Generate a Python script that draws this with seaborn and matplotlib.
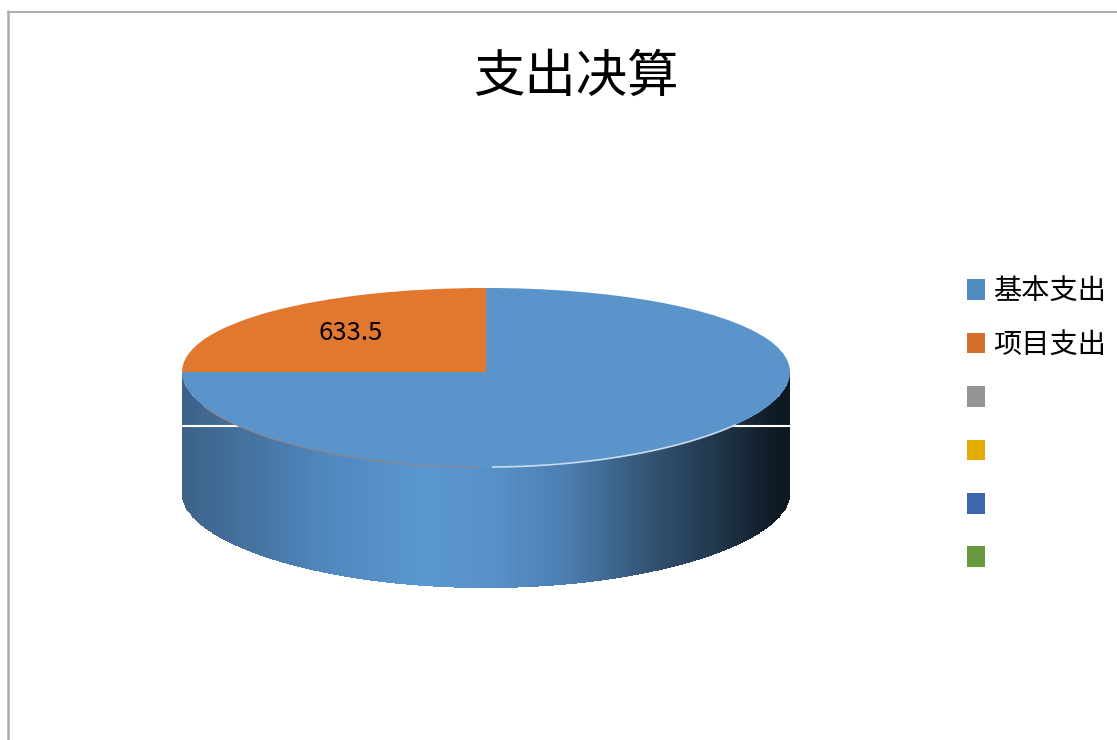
import numpy as np
import matplotlib
matplotlib.use("Agg")
import matplotlib.pyplot as plt
from matplotlib.colors import LinearSegmentedColormap
from matplotlib.lines import Line2D
from matplotlib.patches import Patch
import seaborn as sns

# Budget figures; the first amount is an estimate from its share of the disc
title = "支出决算"
categories = ["基本支出", "项目支出", "", "", "", ""]
values = [1900.5, 633.5, 0, 0, 0, 0]
legend_colors = ["#5189C0", "#D36E2B", "#949494", "#E6AB00", "#3D66AE", "#66993D"]
top_colors = ["#5A94CB", "#E27830"]

sns.set_theme(style="white")
plt.rcParams["font.family"] = ["Noto Sans CJK SC", "DejaVu Sans"]

W, H = 1117, 740
fig = plt.figure(figsize=(W / 100, H / 100), dpi=100, facecolor="white")
ax = fig.add_axes([0, 0, 1, 1])

# Disc geometry in pixels
CX, CY, RX = 486, 372, 304
A, B = 89.2, 0.0615
DEPTH = 121


def tilt(y):
    """Foreshortening of the tilted disc: data radius to pixels above centre."""
    y = np.asarray(y, dtype=float)
    return A * y / (1 + B * y)


def untilt(p):
    p = np.asarray(p, dtype=float)
    return p / (A - B * p)


def value_label(pct):
    amount = pct / 100 * sum(values)
    return f"{amount:.1f}" if amount < 1000 else ""


shown = [v for v in values if v > 0]
wedges, _, autotexts = ax.pie(
    shown,
    colors=top_colors,
    startangle=180,
    radius=1,
    autopct=value_label,
    pctdistance=0.63,
    wedgeprops={"linewidth": 0},
    textprops={"fontsize": 18.5, "color": "black"},
)
ax.set_aspect("auto")
ax.set_yscale("function", functions=(tilt, untilt))
ax.set_xlim((0 - CX) / RX, (W - CX) / RX)
ax.set_ylim(untilt(CY - H), untilt(CY))
ax.set_xticks([])
ax.set_yticks([])
ax.minorticks_off()
ax.set_axis_off()
for w in wedges:
    w.set_zorder(4)
for t in autotexts:
    t.set_zorder(5)

# Cylinder wall below the front rim, shaded from left to right
shade = LinearSegmentedColormap.from_list(
    "wall",
    [
        (0.00, "#3E6288"),
        (0.10, "#44719E"),
        (0.24, "#5088BF"),
        (0.40, "#5A97D0"),
        (0.52, "#5790C8"),
        (0.64, "#4A7CAE"),
        (0.78, "#31506F"),
        (0.90, "#1D3144"),
        (0.97, "#101C27"),
        (1.00, "#0D171F"),
    ],
)
xs = np.linspace(-1, 1, 700)
rim = -np.sqrt(1 - xs**2)
rim_px = tilt(rim)
y_upper = untilt(rim_px)
y_lower = untilt(rim_px - DEPTH)
mesh_x = np.vstack([xs, xs])
mesh_y = np.vstack([y_lower, y_upper])
ax.pcolormesh(mesh_x, mesh_y, (xs[:-1] + 1)[None, :] / 2, cmap=shade, vmin=0, vmax=1,
              shading="flat", zorder=1, antialiased=False, rasterized=True)

# Thin white band across the wall, and the tinted seam along the front rim
band_y = untilt(CY - 426)
ax.plot([(181 - CX) / RX, (790 - CX) / RX], [band_y, band_y],
        color="white", lw=1.5, zorder=2, solid_capstyle="butt")
seam_left = (xs > -0.93) & (xs < -0.02)
seam_right = (xs > 0.02) & (xs < 0.82)
ax.plot(xs[seam_left], rim[seam_left], color="#A8806E", lw=1.2, zorder=3)
ax.plot(xs[seam_right], rim[seam_right], color="#C9DCEC", lw=1.2, zorder=5)

# Outer chart frame along the top and left edges
frame = "#ABABAB"
fig.add_artist(Line2D([8 / W, 1], [1 - 11.5 / H, 1 - 11.5 / H], color=frame, lw=1.4))
fig.add_artist(Line2D([8 / W, 8 / W], [0, 1 - 11 / H], color=frame, lw=1.8))

fig.text(575.5 / W, 1 - 77 / H, title, ha="center", va="center", fontsize=37, color="black")

handles = [Patch(facecolor=c, edgecolor="none") for c in legend_colors]
ax.legend(
    handles,
    categories,
    loc="upper left",
    bbox_to_anchor=(967 / W, 1 - 276.5 / H),
    bbox_transform=fig.transFigure,
    frameon=False,
    fontsize=20.3,
    borderpad=0,
    borderaxespad=0,
    handlelength=0.64,
    handleheight=0.75,
    handletextpad=0.3,
    labelspacing=0.83,
    labelcolor="black",
)

fig.savefig("out.png", dpi=100, facecolor="white")
